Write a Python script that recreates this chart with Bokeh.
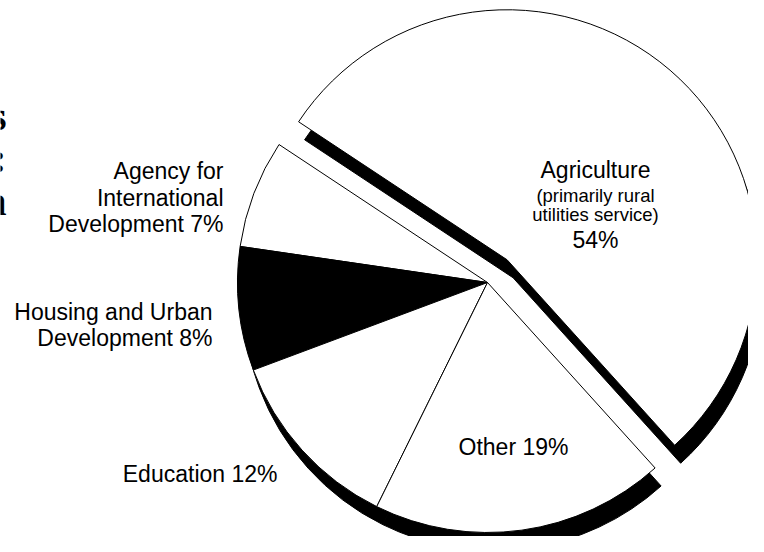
import numpy as np
from bokeh.plotting import figure
from bokeh.models import Range1d, ColumnDataSource
from bokeh.core.properties import value
from bokeh.embed import file_html
from bokeh.resources import INLINE

# ---- data ----
categories = ["Agriculture", "Agency for International Development",
              "Housing and Urban Development", "Education", "Other"]
shares = [54, 7, 8, 12, 19]
slice_fill = ["white", "white", "black", "white", "white"]
exploded = [True, False, False, False, False]
title_tails = ["s", ":", "n"]   # right ends of a cropped title at the left edge

# ---- layout / style constants ----
START_DEG = -47.9      # where the first slice (Agriculture) starts, anticlockwise
RADIUS = 250
EXPLODE = 30
SHADOW_DX, SHADOW_DY = 6, -18
CX_PAGE, CY_PAGE = 487, 282   # pie centre in picture pixels
FONT = "Liberation Sans"

def px(x):
    return x - CX_PAGE

def py(y):
    return CY_PAGE - y

W, H = 748, 536
p = figure(width=W, height=H, output_backend="svg", toolbar_location=None,
           x_range=Range1d(px(0), px(W)), y_range=Range1d(py(H), py(0)),
           min_border=0, outline_line_color=None, background_fill_color="white")
p.axis.visible = False
p.grid.visible = False

ang = np.array(shares, dtype=float) / sum(shares) * 360.0
ends = START_DEG + np.cumsum(ang)
starts = ends - ang
mids = np.radians((starts + ends) / 2)
ex = np.array(exploded, dtype=float) * EXPLODE
cx = ex * np.cos(mids)
cy = ex * np.sin(mids)

src = ColumnDataSource(dict(cat=categories, x=cx, y=cy,
                            sx=cx + SHADOW_DX, sy=cy + SHADOW_DY,
                            start=starts, end=ends, fill=slice_fill))

# shadows
p.wedge(x="sx", y="sy", radius=RADIUS, start_angle="start", end_angle="end",
        start_angle_units="deg", end_angle_units="deg", direction="anticlock",
        fill_color="black", line_color="black", line_width=1, source=src)
# slices
p.wedge(x="x", y="y", radius=RADIUS, start_angle="start", end_angle="end",
        start_angle_units="deg", end_angle_units="deg", direction="anticlock",
        fill_color="fill", line_color="black", line_width=1, source=src)

agri, aid, hud, edu, other = shares

def label(lines, x, baselines, align="right", sizes=None, font=FONT, style="normal"):
    for i, (t, b) in enumerate(zip(lines, baselines)):
        size = sizes[i] if sizes else "23px"
        p.text(x=[px(x)], y=[py(b)], text=[t], text_font=value(font),
               text_font_size=value(size), text_align=align,
               text_font_style=style,
               text_baseline="alphabetic", text_color="black")

label(["Agency for", "International", f"Development {aid}%"], 223, [170, 197, 223])
label(["Housing and Urban", f"Development {hud}%"], 212, [311, 337])
label([f"Education {edu}%"], 277, [473])
label([f"Other {other}%"], 513, [446], align="center")
label(["Agriculture", "(primarily rural", "utilities service)", f"{agri}%"],
      595, [169, 195, 214, 239], align="center",
      sizes=["23px", "18.5px", "18.5px", "23px"])

# cropped title fragments at the far left edge
label(title_tails, 6, [115, 157, 200], align="right",
      sizes=["42px"] * 3, font="Liberation Serif", style="bold")

open("out.html", "w").write(file_html(p, INLINE))
